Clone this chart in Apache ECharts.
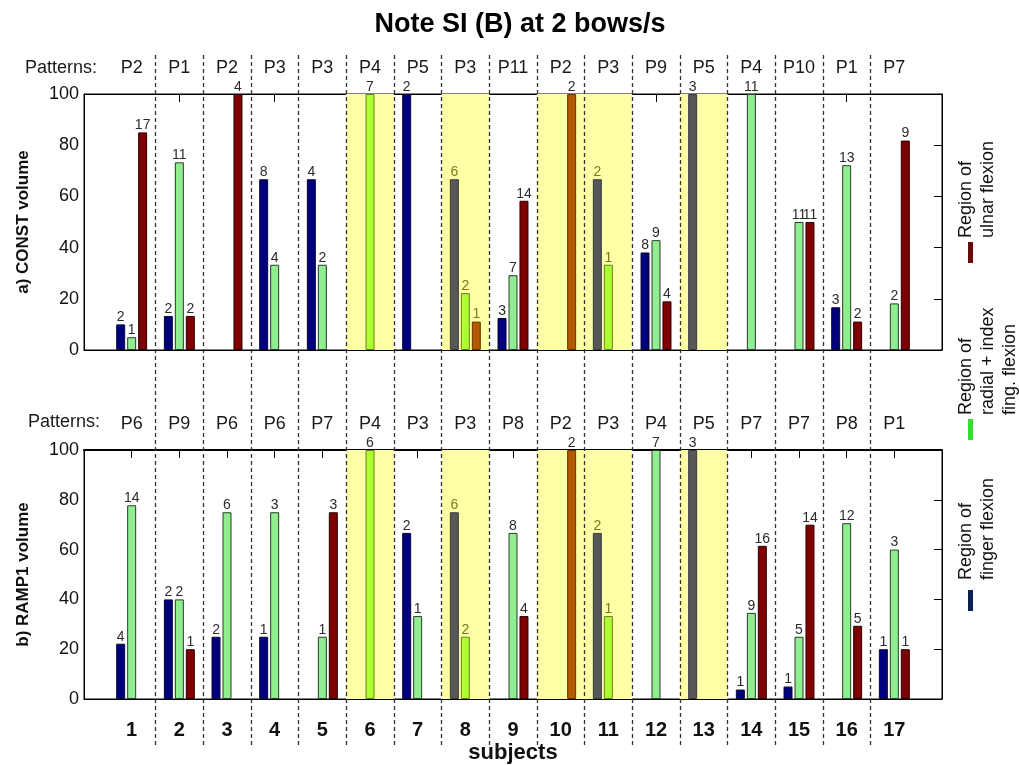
<!DOCTYPE html>
<html><head><meta charset="utf-8">
<script src="https://cdn.jsdelivr.net/npm/echarts@6/dist/echarts.min.js"></script>
<style>html,body{margin:0;padding:0;background:#fff}#c{width:1019px;height:765px}</style>
</head><body><div id="c"></div>
<script>
// ---------- data ----------
const subjects = [1,2,3,4,5,6,7,8,9,10,11,12,13,14,15,16,17];
const constPatterns = ['P2','P1','P2','P3','P3','P4','P5','P3','P11','P2','P3','P9','P5','P4','P10','P1','P7'];
const rampPatterns  = ['P6','P9','P6','P6','P7','P4','P3','P3','P8','P2','P3','P4','P5','P7','P7','P8','P1'];
const shadedSubjects = [6, 8, 10, 11, 13];
const yTicks = [0, 20, 40, 60, 80, 100];

// a) CONST volume, % of trials per region
const constFinger = [10, 13.3, null, 66.7, 66.7, null, 100, 66.7, 12.5, null, 66.7, 38.1, 100, null, null, 16.7, null];
const constRadial = [5, 73.3, null, 33.3, 33.3, 100, null, 22.2, 29.2, null, 33.3, 42.9, null, 100, 50, 72.2, 18.2];
const constUlnar  = [85, 13.3, 100, null, null, null, null, 11.1, 58.3, 100, null, 19.0, null, null, 50, 11.1, 81.8];
// counts printed above the bars
const constFingerN = [2, 2, null, 8, 4, null, 2, 6, 3, null, 2, 8, 3, null, null, 3, null];
const constRadialN = [1, 11, null, 4, 2, 7, null, 2, 7, null, 1, 9, null, 11, 11, 13, 2];
const constUlnarN  = [17, 2, 4, null, null, null, null, 1, 14, 2, null, 4, null, null, 11, 2, 9];

// b) RAMP1 volume
const rampFinger = [22.2, 40, 25, 25, null, null, 66.7, 75, null, null, 66.7, null, 100, 3.8, 5, null, 20];
const rampRadial = [77.8, 40, 75, 75, 25, 100, 33.3, 25, 66.7, null, 33.3, 100, null, 34.6, 25, 70.6, 60];
const rampUlnar  = [null, 20, null, null, 75, null, null, null, 33.3, 100, null, null, null, 61.5, 70, 29.4, 20];
const rampFingerN = [4, 2, 2, 1, null, null, 2, 6, null, null, 2, null, 3, 1, 1, null, 1];
const rampRadialN = [14, 2, 6, 3, 1, 6, 1, 2, 8, null, 1, 7, null, 9, 5, 12, 3];
const rampUlnarN  = [null, 1, null, null, 3, null, null, null, 4, 2, null, null, null, 16, 14, 5, 1];

// ---------- styling ----------
const FONT = '"Liberation Sans", Arial, Helvetica, sans-serif';
const PAL = {
  finger: {fill: '#00007f', border: '#0a0a30', alt: '#575757', altBorder: '#3a3a3a'},
  radial: {fill: '#90ee90', border: '#2a3a2a', alt: '#adff2f', altBorder: '#6b7d20'},
  ulnar:  {fill: '#7f0000', border: '#2a0000', alt: '#b35a00', altBorder: '#6a3300'}
};
const isShaded = s => shadedSubjects.indexOf(s) >= 0;

function barSeries(name, vals, counts, pal, gi) {
  const data = [];
  vals.forEach((v, k) => {
    if (v === null) return;
    const s = subjects[k];
    const sh = isShaded(s);
    data.push({
      value: [s, v],
      itemStyle: {color: sh ? pal.alt : pal.fill, borderColor: sh ? pal.altBorder : pal.border, borderWidth: 1},
      label: {color: (sh && v < 100) ? '#7d7a1e' : '#2b2b2b'}
    });
  });
  return {
    type: 'bar', name: name, xAxisIndex: gi * 2, yAxisIndex: gi * 2,
    barWidth: 9, barGap: '22%', data: data, z: 3,
    label: {show: true, position: 'top', distance: 0, fontSize: 14, fontFamily: FONT,
      formatter: p => String(counts[p.value[0] - 1])}
  };
}

function shadeArea(gi) {
  const ranges = [];
  shadedSubjects.forEach(s => {
    const last = ranges[ranges.length - 1];
    if (last && last[1] === s - 0.5) last[1] = s + 0.5; else ranges.push([s - 0.5, s + 0.5]);
  });
  return {
    type: 'bar', xAxisIndex: gi * 2, yAxisIndex: gi * 2, data: [], z: 1, silent: true,
    markArea: {silent: true, itemStyle: {color: '#ffffa6'},
      data: ranges.map(r => [{xAxis: r[0]}, {xAxis: r[1]}])}
  };
}

const evenTicks = [2,4,6,8,10,12,14,16];
function xAxes(gi, patterns, bottomLabels) {
  const tickVals = gi === 0 ? evenTicks : subjects;
  const common = {gridIndex: gi, type: 'value', min: 0, max: 18, splitLine: {show: false}};
  return [
    Object.assign({}, common, {
      position: 'bottom',
      axisLine: {show: true, onZero: false, lineStyle: {color: '#000', width: 1}},
      axisTick: {show: true, inside: true, length: 8, customValues: tickVals, lineStyle: {color: '#000'}},
      axisLabel: bottomLabels ? {show: true, customValues: subjects, fontSize: 20, fontWeight: 'bold',
        fontFamily: FONT, color: '#111', margin: 21, formatter: v => String(v)} : {show: false},
      name: bottomLabels ? 'subjects' : '', nameLocation: 'middle', nameGap: 43,
      nameTextStyle: {fontSize: 22, fontWeight: 'bold', fontFamily: FONT, color: '#111'}
    }),
    Object.assign({}, common, {
      position: 'top',
      axisLine: {show: true, onZero: false, lineStyle: {color: '#000', width: gi === 0 ? 1 : 2}},
      axisTick: {show: true, inside: true, length: 8, customValues: tickVals, lineStyle: {color: '#000'}},
      axisLabel: {show: true, customValues: subjects, fontSize: 18, fontFamily: FONT, color: '#1a1a1a',
        margin: 17, formatter: v => patterns[v - 1] || ''}
    })
  ];
}
function yAxes(gi, name) {
  const common = {gridIndex: gi, type: 'value', min: 0, max: 100, interval: 20, splitLine: {show: false}};
  return [
    Object.assign({}, common, {
      position: 'left',
      axisLine: {show: true, onZero: false, lineStyle: {color: '#000'}},
      axisTick: {show: false},
      axisLabel: {show: true, fontSize: 18, fontFamily: FONT, color: '#111', margin: 5,
        formatter: v => yTicks.indexOf(v) >= 0 ? String(v) : ''},
      name: name, nameLocation: 'middle', nameGap: 52,
      nameTextStyle: {fontSize: 17, fontWeight: 'bold', fontFamily: FONT, color: '#111'}
    }),
    Object.assign({}, common, {
      position: 'right',
      axisLine: {show: true, onZero: false, lineStyle: {color: '#000'}},
      axisTick: {show: true, inside: true, length: 8, lineStyle: {color: '#000'}},
      axisLabel: {show: false}
    })
  ];
}

const xs = [].concat(xAxes(0, constPatterns, false), xAxes(1, rampPatterns, true),
  [{gridIndex: 2, type: 'value', min: 0, max: 18, show: false}]);
const ys = [].concat(yAxes(0, 'a) CONST volume'), yAxes(1, 'b) RAMP1 volume'),
  [{gridIndex: 2, type: 'value', min: 0, max: 1, show: false}]);

function panelSeries(gi, f, r, u, fN, rN, uN) {
  return [shadeArea(gi),
    barSeries('Region of finger flexion', f, fN, PAL.finger, gi),
    barSeries('Region of radial + index fing. flexion', r, rN, PAL.radial, gi),
    barSeries('Region of ulnar flexion', u, uN, PAL.ulnar, gi)];
}

const separators = subjects.slice(0, 16).map(s => ({xAxis: s + 0.5}));

const option = {
  animation: false,
  backgroundColor: '#fff',
  textStyle: {fontFamily: FONT},
  title: {text: 'Note SI (B) at 2 bows/s', left: 515, top: 6, textAlign: 'center',
    textStyle: {fontSize: 27, fontWeight: 'bold', fontFamily: FONT, color: '#000'}},
  grid: [
    {left: 84, top: 94, width: 858, height: 256, show: true, borderColor: '#000', borderWidth: 1, backgroundColor: 'transparent'},
    {left: 84, top: 450, width: 858, height: 256, show: true, borderColor: '#000', borderWidth: 1, backgroundColor: 'transparent'},
    {left: 84, top: 55, width: 858, height: 690, show: false}
  ],
  xAxis: xs,
  yAxis: ys,
  series: [].concat(
    panelSeries(0, constFinger, constRadial, constUlnar, constFingerN, constRadialN, constUlnarN),
    panelSeries(1, rampFinger, rampRadial, rampUlnar, rampFingerN, rampRadialN, rampUlnarN),
    [{type: 'line', xAxisIndex: 4, yAxisIndex: 4, data: [[0, 0]], showSymbol: false, silent: true, z: 6,
      lineStyle: {opacity: 0},
      markLine: {silent: true, symbol: 'none', label: {show: false},
        lineStyle: {type: [4, 3], color: '#333', width: 1.3}, data: separators}}]
  ),
  graphic: [
    {type: 'text', x: 25, y: 68, style: {text: 'Patterns:', font: '18px ' + FONT, fill: '#1a1a1a', textVerticalAlign: 'middle', verticalAlign: 'middle'}},
    {type: 'text', x: 28, y: 422, style: {text: 'Patterns:', font: '18px ' + FONT, fill: '#1a1a1a', textVerticalAlign: 'middle', verticalAlign: 'middle'}},
    {type: 'text', x: 955, y: 238, rotation: Math.PI / 2, style: {text: 'Region of\nulnar flexion', font: '18px ' + FONT, fill: '#111', lineHeight: 22, textAlign: 'left', align: 'left', textVerticalAlign: 'top', verticalAlign: 'top'}},
    {type: 'rect', shape: {x: 968, y: 242, width: 5, height: 21}, style: {fill: '#6b0a0a'}},
    {type: 'text', x: 955, y: 415, rotation: Math.PI / 2, style: {text: 'Region of\nradial + index\nfing. flexion', font: '18px ' + FONT, fill: '#111', lineHeight: 22, textAlign: 'left', align: 'left', textVerticalAlign: 'top', verticalAlign: 'top'}},
    {type: 'rect', shape: {x: 968, y: 419, width: 5, height: 21}, style: {fill: '#33dd33'}},
    {type: 'text', x: 955, y: 580, rotation: Math.PI / 2, style: {text: 'Region of\nfinger flexion', font: '18px ' + FONT, fill: '#111', lineHeight: 22, textAlign: 'left', align: 'left', textVerticalAlign: 'top', verticalAlign: 'top'}},
    {type: 'rect', shape: {x: 968, y: 590, width: 5, height: 21}, style: {fill: '#0b2255'}}
  ]
};

const chart = echarts.init(document.getElementById('c'), null, {renderer: 'canvas'});
chart.setOption(option);
</script></body></html>
